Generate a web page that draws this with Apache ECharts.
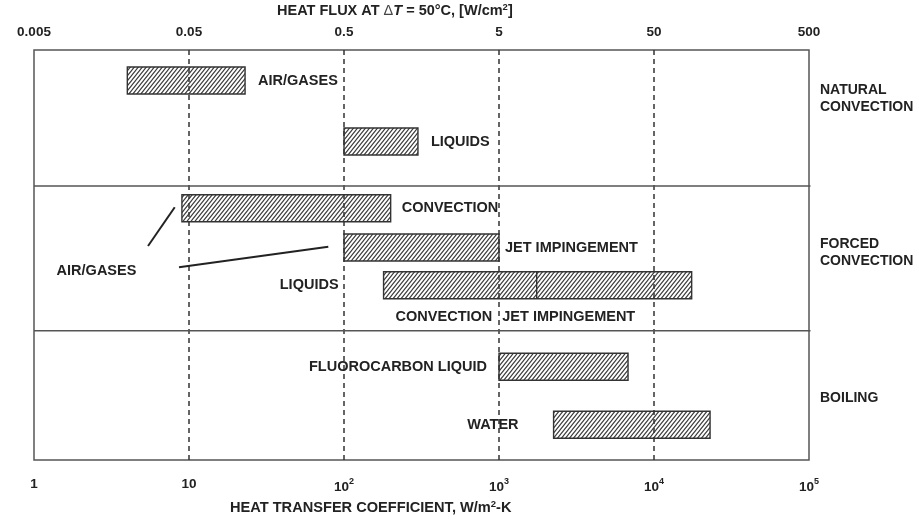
<!DOCTYPE html>
<html>
<head>
<meta charset="utf-8">
<script src="https://cdn.jsdelivr.net/npm/echarts@6/dist/echarts.min.js"></script>
<style>
  html, body { margin: 0; padding: 0; background: #fff; }
  #chart { width: 919px; height: 520px; }
</style>
</head>
<body>
<div id="chart"></div>
<script>
// Heat transfer coefficient ranges (W/m²-K) for each cooling method
const bandNames = ['AIR/GASES', 'LIQUIDS', 'CONVECTION', 'JET IMPINGEMENT', 'LIQUIDS', 'FLUOROCARBON LIQUID', 'WATER'];
const bandLow   = [4, 100, 9, 100, 180, 1000, 2250];
const bandHigh  = [23, 300, 200, 1000, 17500, 6800, 23000];
// row on the vertical lane scale (0 = top of the frame)
const bandRow   = [3.05, 9.15, 15.83, 19.75, 23.53, 31.67, 37.47];
// point where the forced-liquid range changes from convection to jet impingement
const bandSplit = [null, null, null, null, 1750, null, null];

// sub-labels under the forced-liquid band
const subLabelText = ['CONVECTION', 'JET IMPINGEMENT'];
const subLabelAt   = [905, 1050];
const subLabelRow  = 26.7;

// pointer lines tying the "AIR/GASES" note to the forced air bands
const leaderA = [[5.44, 19.6], [8.09, 15.73]];
const leaderB = [[8.62, 21.73], [79.2, 19.67]];
const airNoteAt = [2.53, 22.07];

// regime groups on the right, with divider rows between them
const groupNames = ['NATURAL\nCONVECTION', 'FORCED\nCONVECTION', 'BOILING'];
const groupRow   = [4.85, 20.25, 34.77];
const groupDividers = [13.6, 28.07];

// tick labels
const hLabels    = ['1', '10', '10{s|2}', '10{s|3}', '10{s|4}', '10{s|5}'];
const fluxLabels = ['0.005', '0.05', '0.5', '5', '50', '500'];

// label placement for each band: side and gap in px
const labelLayout = [
  ['right', 13], ['right', 13], ['right', 11], ['right', 6],
  ['left', 45], ['left', 12], ['left', 35]
];

const FONT = 'Liberation Sans, Arial, sans-serif';
const INK = '#222';
const LABEL_FONT = 'bold 14.5px ' + FONT;
const BAR_THICK = 2.7;

function hatchCanvas() {
  const c = document.createElement('canvas');
  c.width = 4; c.height = 5;
  const g = c.getContext('2d');
  g.strokeStyle = '#383838';
  g.lineWidth = 1.1;
  g.beginPath();
  g.moveTo(0, 5); g.lineTo(4, 0);
  g.moveTo(-1, 1.25); g.lineTo(1, -1.25);
  g.moveTo(3, 6.25); g.lineTo(5, 3.75);
  g.stroke();
  return c;
}
const hatch = hatchCanvas();

const bandData = bandNames.map((n, i) => [bandLow[i], bandHigh[i], bandRow[i], bandSplit[i] == null ? NaN : bandSplit[i]]);

function renderBand(params, api) {
  const i = params.dataIndex;
  const lo = api.value(0), hi = api.value(1), row = api.value(2), split = api.value(3);
  const pTop = api.coord([lo, row - BAR_THICK / 2]);
  const pBot = api.coord([hi, row + BAR_THICK / 2]);
  const x0 = pTop[0], x1 = pBot[0], y0 = pTop[1], y1 = pBot[1];
  const children = [{
    type: 'rect',
    shape: { x: x0, y: y0, width: x1 - x0, height: y1 - y0 },
    style: { fill: { image: hatch, repeat: 'repeat' }, stroke: '#333', lineWidth: 1.4 }
  }];
  if (!isNaN(split)) {
    const xs = api.coord([split, row])[0];
    children.push({
      type: 'line',
      shape: { x1: xs, y1: y0, x2: xs, y2: y1 },
      style: { stroke: '#333', lineWidth: 1.4 }
    });
  }
  const side = labelLayout[i][0], gap = labelLayout[i][1];
  const yc = (y0 + y1) / 2;
  children.push({
    type: 'text',
    style: {
      text: bandNames[i],
      x: side === 'right' ? x1 + gap : x0 - gap,
      y: yc,
      align: side === 'right' ? 'left' : 'right',
      verticalAlign: 'middle',
      fill: INK, font: LABEL_FONT
    }
  });
  return { type: 'group', children: children };
}

function renderNotes(params, api) {
  const children = [];
  subLabelText.forEach((t, k) => {
    const p = api.coord([subLabelAt[k], subLabelRow]);
    children.push({
      type: 'text',
      style: { text: t, x: p[0], y: p[1], align: k === 0 ? 'right' : 'left', verticalAlign: 'middle', fill: INK, font: LABEL_FONT }
    });
  });
  const a = api.coord(airNoteAt);
  children.push({
    type: 'text',
    style: { text: 'AIR/GASES', x: a[0], y: a[1], align: 'center', verticalAlign: 'middle', fill: INK, font: LABEL_FONT }
  });
  groupDividers.forEach(r => {
    const l = api.coord([1, r]), rr = api.coord([1e5, r]);
    children.push({ type: 'line', shape: { x1: l[0], y1: l[1], x2: rr[0] + 1.5, y2: rr[1] }, style: { stroke: '#555', lineWidth: 1.5 } });
  });
  groupNames.forEach((t, k) => {
    const p = api.coord([1e5, groupRow[k]]);
    children.push({
      type: 'text',
      style: { text: t, x: p[0] + 11, y: p[1], align: 'left', verticalAlign: 'middle', lineHeight: 17.5, fill: INK, font: 'bold 14px ' + FONT }
    });
  });
  return { type: 'group', children: children };
}

const chart = echarts.init(document.getElementById('chart'), null, { renderer: 'canvas' });

const supRich = {
  s: { fontSize: 9, fontWeight: 'bold', fontFamily: FONT, color: INK, padding: [0, 0, 11, 0] }
};

chart.setOption({
  animation: false,
  backgroundColor: '#fff',
  title: [
    {
      text: 'HEAT FLUX AT {g|Δ}{i|T} = 50°C, [W/cm{s|2}]',
      left: 277, top: 2, padding: 0,
      textStyle: {
        fontFamily: FONT, fontWeight: 'bold', fontSize: 14.5, color: INK,
        rich: {
          g: { fontFamily: FONT, fontWeight: 'normal', fontSize: 14.5, color: '#444' },
          i: { fontFamily: FONT, fontWeight: 'bold', fontStyle: 'italic', fontSize: 14.5, color: INK },
          s: { fontFamily: FONT, fontWeight: 'bold', fontSize: 9.5, color: INK, padding: [0, 0, 7, 0] }
        }
      }
    },
    {
      text: 'HEAT TRANSFER COEFFICIENT, W/m{s|2}-K',
      left: 230, top: 499, padding: 0,
      textStyle: {
        fontFamily: FONT, fontWeight: 'bold', fontSize: 14.6, color: INK,
        rich: { s: { fontFamily: FONT, fontWeight: 'bold', fontSize: 9.5, color: INK, padding: [0, 0, 7, 0] } }
      }
    }
  ],
  grid: {
    left: 34, right: 110, top: 50, bottom: 60,
    show: true, borderColor: '#555', borderWidth: 1.5, backgroundColor: 'transparent'
  },
  xAxis: [
    {
      type: 'log', logBase: 10, min: 1, max: 1e5, position: 'bottom',
      axisLine: { show: false }, axisTick: { show: false },
      axisLabel: {
        margin: 17, fontFamily: FONT, fontWeight: 'bold', fontSize: 13.5, color: INK,
        formatter: v => hLabels[Math.round(Math.log10(v))],
        rich: supRich
      },
      splitLine: {
        show: true, showMinLine: false, showMaxLine: false,
        lineStyle: { color: '#333', width: 1.5, type: [5, 4] }
      }
    },
    {
      type: 'log', logBase: 10, min: 1, max: 1e5, position: 'top',
      axisLine: { show: false }, axisTick: { show: false }, splitLine: { show: false },
      axisLabel: {
        margin: 11, fontFamily: FONT, fontWeight: 'bold', fontSize: 13.5, color: INK,
        formatter: v => fluxLabels[Math.round(Math.log10(v))]
      }
    }
  ],
  yAxis: {
    type: 'value', min: 0, max: 41, inverse: true, show: false,
    splitLine: { show: false }
  },
  series: [
    {
      type: 'custom', name: 'bands', xAxisIndex: 0, renderItem: renderBand,
      data: bandData, clip: false, silent: true, z: 3
    },
    {
      type: 'custom', name: 'notes', xAxisIndex: 0, renderItem: renderNotes,
      data: [[1, 0]], clip: false, silent: true, z: 3
    },
    {
      type: 'line', xAxisIndex: 0, data: leaderA, symbol: 'none', silent: true,
      lineStyle: { color: INK, width: 2 }, z: 4
    },
    {
      type: 'line', xAxisIndex: 0, data: leaderB, symbol: 'none', silent: true,
      lineStyle: { color: INK, width: 2 }, z: 4
    }
  ]
});
</script>
</body>
</html>
